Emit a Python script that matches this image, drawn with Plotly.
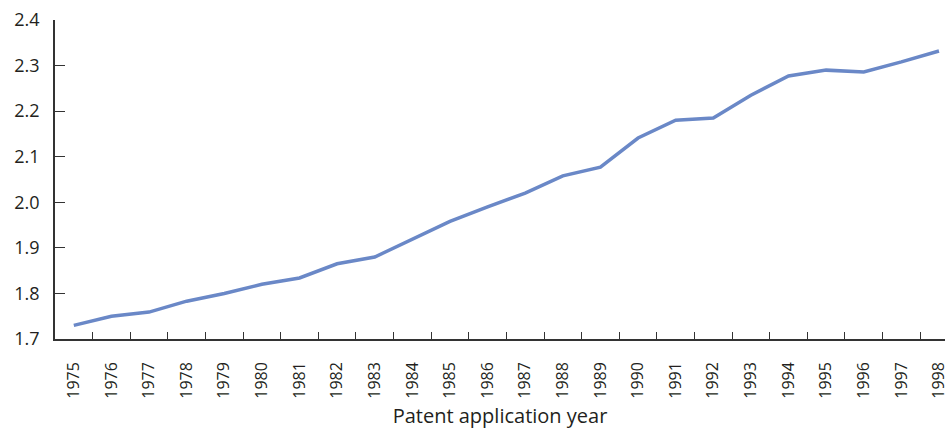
import plotly.graph_objects as go

years = [str(y) for y in range(1975, 1999)]
values = [1.73, 1.75, 1.759, 1.783, 1.80, 1.82, 1.834, 1.865, 1.88, 1.92,
          1.958, 1.99, 2.02, 2.058, 2.077, 2.141, 2.18, 2.185, 2.235, 2.277,
          2.29, 2.286, 2.308, 2.332]

idx = list(range(len(years)))
boundaries = [i + 0.5 for i in idx[:-1]]

fig = go.Figure()
fig.add_trace(go.Scatter(x=idx, y=values, mode='lines',
                         line=dict(color='#6a88c7', width=3.5)))

font_family = "Open Sans, Noto Sans, sans-serif"
fig.update_layout(
    width=945, height=429,
    margin=dict(l=55, r=0, t=20, b=90),
    plot_bgcolor='white', paper_bgcolor='white',
    showlegend=False,
    font=dict(family=font_family, size=16, color='#231f20'),
)
fig.update_xaxes(
    range=[-0.5, 23.16], automargin=False,
    tickmode='array', tickvals=idx, ticktext=years, ticks='',
    minor=dict(tickmode='array', tickvals=boundaries, ticks='inside',
               ticklen=7, tickcolor='#333', showgrid=False),
    tickangle=-90, tickfont=dict(size=16), ticklabelstandoff=15,
    ticklabeloverflow='allow',
    showline=True, linecolor='#333', linewidth=1.5, showgrid=False,
    zeroline=False,
    title=dict(text='Patent application year', standoff=12, font=dict(size=20)),
)
fig.update_yaxes(
    range=[1.7, 2.4], dtick=0.1, tickformat='.1f', automargin=False,
    ticks='inside', ticklen=10, tickcolor='#333', ticklabelstandoff=10,
    showline=True, linecolor='#333', linewidth=1.5, showgrid=False,
    zeroline=False, tickfont=dict(size=18),
)
# drop the page's default body margin so the figure sits at the window corner
fig.write_html("out.html", config={'displayModeBar': False},
               post_script="document.body.style.margin='0';")
